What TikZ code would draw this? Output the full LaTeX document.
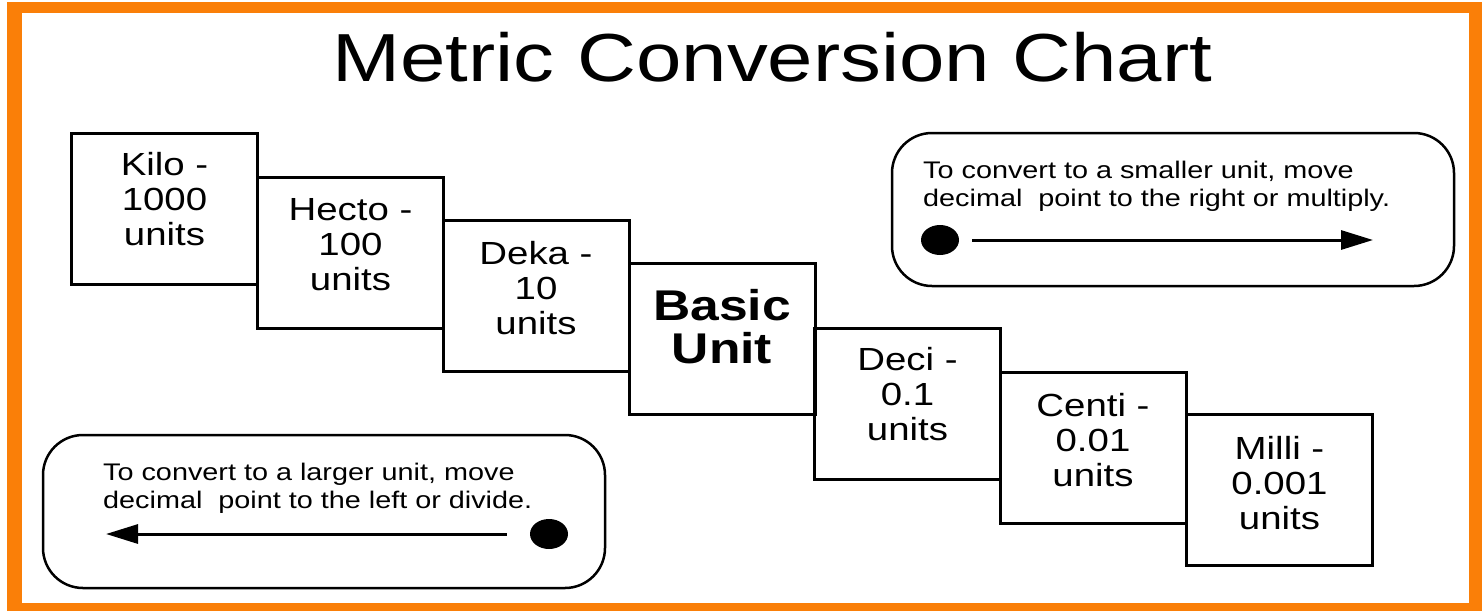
\documentclass[tikz,border=0pt]{standalone}
\usepackage{fontspec}
\setmainfont{Liberation Sans}[FakeStretch=1.2]
\usetikzlibrary{positioning,shapes.geometric,arrows.meta}
\definecolor{frameorange}{RGB}{250,127,8}

\begin{document}
\begin{tikzpicture}[x=1pt, y=-1pt,
        title/.style={anchor=base, inner sep=0pt, font=\fontsize{68}{72}\selectfont},
        unitbox/.style={draw, line width=3pt, minimum width=186pt, minimum height=151pt, inner sep=0pt, outer sep=0pt},
        unittext/.style={anchor=north, align=center, inner sep=0pt, font=\fontsize{32}{35}\selectfont},
        basictext/.style={anchor=north, align=center, inner sep=0pt, font=\bfseries\fontsize{43}{43}\selectfont},
        notebox/.style={draw, line width=2.5pt, rounded corners=40pt, minimum width=562pt, minimum height=153pt},
        notetext/.style={anchor=north west, align=left, inner sep=0pt, font=\fontsize{24}{28}\selectfont},
        pointdot/.style={ellipse, fill, minimum width=38pt, minimum height=30pt, inner sep=0pt},
        flow/.style={line width=3pt, -{Triangle[length=32pt,width=19pt]}}]
        % Page and orange frame
        \useasboundingbox (0,0) rectangle (1482,611);
        \fill[white] (0,0) rectangle (1482,611);
        \fill[frameorange] (7,2) rectangle (1482,611);
        \fill[white] (22,13) rectangle (1469,603);

        \node[title] (title) at (772.5,81) {Metric Conversion Chart};

        % Staircase of prefixes
        \node[unitbox] (kilo)  at (164.5,209)   {};
        \node[unitbox] (hecto) at (350.5,252.5) {};
        \node[unitbox] (deka)  at (536,296)     {};
        \node[unitbox] (basic) at (722,339)     {};
        \node[unitbox] (deci)  at (907.5,404)   {};
        \node[unitbox] (centi) at (1093,447.5)  {};
        \node[unitbox] (milli) at (1279.5,490)  {};

        \node[unittext] (kilo-txt)  at ([yshift=-19pt]kilo.north)  {Kilo -\\1000\\units};
        \node[unittext] (hecto-txt) at ([yshift=-21pt]hecto.north) {Hecto -\\100\\units};
        \node[unittext] (deka-txt)  at ([yshift=-21pt]deka.north)  {Deka -\\10\\units};
        \node[basictext] (basic-txt) at ([yshift=-26pt]basic.north) {Basic\\Unit};
        \node[unittext] (deci-txt)  at ([yshift=-19pt]deci.north)  {Deci -\\0.1\\units};
        \node[unittext] (centi-txt) at ([yshift=-21pt]centi.north) {Centi -\\0.01\\units};
        \node[unittext] (milli-txt) at ([yshift=-22pt]milli.north) {Milli -\\0.001\\units};

        % Smaller unit note
        \node[notebox] (smaller) at (1173,209.5) {};
        \node[notetext] (smaller-txt) at (923,161) {To convert to a smaller unit, move\\decimal\ \ point to the right or multiply.};
        \node[pointdot] (smaller-dot) at (940,240) {};
        \coordinate (smaller-tip) at (1373,240);
        \draw[flow, shorten <=13pt] (smaller-dot) -- (smaller-tip);

        % Larger unit note
        \node[notebox] (larger) at (324,511.5) {};
        \node[notetext] (larger-txt) at (103,463) {To convert to a larger unit, move\\decimal\ \ point to the left or divide.};
        \node[pointdot] (larger-dot) at (549,534) {};
        \coordinate (larger-tip) at (106,534);
        \draw[flow, shorten <=23pt] (larger-dot) -- (larger-tip);
\end{tikzpicture}
\end{document}
